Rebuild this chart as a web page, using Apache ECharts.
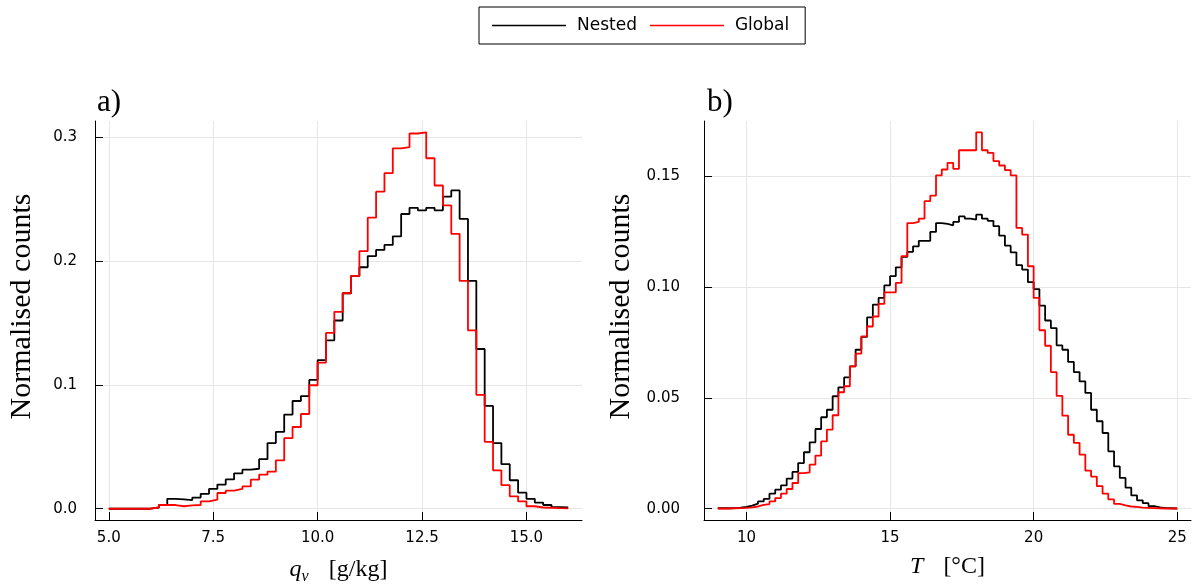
<!DOCTYPE html>
<html>
<head>
<meta charset="utf-8">
<script src="https://cdn.jsdelivr.net/npm/echarts@6/dist/echarts.min.js"></script>
<style>
  html, body { margin: 0; padding: 0; background: #fff; }
  #chart { width: 1194px; height: 586px; }
</style>
</head>
<body>
<div id="chart"></div>
<script>
// ---------- data ----------
const seriesNames = ['Nested', 'Global'];
const binWidth = 0.2;

// panel a) specific humidity q_v [g/kg], bins start at 5.0
const qvBinStart = 5.0;
const qvNested = [
  0, 0, 0, 0, 0, 0.001, 0.003, 0.008, 0.0075, 0.007,
  0.009, 0.012, 0.016, 0.0195, 0.0237, 0.0286, 0.0315, 0.0323, 0.040, 0.053,
  0.062, 0.076, 0.087, 0.091, 0.104, 0.120, 0.136, 0.152, 0.174, 0.188,
  0.195, 0.204, 0.209, 0.213, 0.220, 0.238, 0.243, 0.241, 0.243, 0.241,
  0.252, 0.257, 0.234, 0.184, 0.129, 0.083, 0.053, 0.036, 0.023, 0.013,
  0.008, 0.005, 0.003, 0.0013, 0.001
];
const qvGlobal = [
  0, 0, 0, 0, 0, 0.001, 0.003, 0.003, 0.002, 0.0027,
  0.003, 0.006, 0.0073, 0.0127, 0.0146, 0.016, 0.018, 0.0235, 0.0275, 0.030,
  0.039, 0.057, 0.066, 0.0765, 0.0997, 0.118, 0.142, 0.159, 0.174, 0.188,
  0.208, 0.235, 0.256, 0.271, 0.291, 0.292, 0.303, 0.304, 0.283, 0.261,
  0.245, 0.222, 0.184, 0.144, 0.092, 0.054, 0.031, 0.019, 0.010, 0.006,
  0.002, 0.001, 0.0008, 0.0005, 0.0003
];

// panel b) temperature T [°C], bins start at 9.0
const tBinStart = 9.0;
const tNested = [
  0.0002, 0.0002, 0.0003, 0.0005, 0.0008, 0.0014, 0.0023, 0.0033, 0.0044, 0.0068,
  0.0086, 0.0105, 0.0136, 0.0166, 0.0206, 0.0255, 0.030, 0.036, 0.0413, 0.0447,
  0.0508, 0.0548, 0.0593, 0.0643, 0.0718, 0.0776, 0.0864, 0.0922, 0.0952, 0.1009,
  0.105, 0.109, 0.1137, 0.116, 0.1185, 0.121, 0.121, 0.125, 0.129, 0.1286,
  0.128, 0.1295, 0.132, 0.131, 0.1306, 0.1328, 0.131, 0.130, 0.1276, 0.1233,
  0.1188, 0.1158, 0.110, 0.108, 0.1023, 0.0992, 0.0917, 0.085, 0.0816, 0.0738,
  0.0718, 0.0663, 0.0617, 0.0575, 0.0523, 0.0447, 0.0395, 0.0342, 0.0259, 0.0191,
  0.0139, 0.0095, 0.006, 0.0038, 0.0025, 0.0012, 0.0006, 0.0003, 0.0002, 0.0001
];
const tGlobal = [
  0.0001, 0.0001, 0.0002, 0.0003, 0.0004, 0.0006, 0.001, 0.0017, 0.0021, 0.0033,
  0.0048, 0.0068, 0.0089, 0.0116, 0.0161, 0.0164, 0.0199, 0.024, 0.0304, 0.0357,
  0.0422, 0.0526, 0.0553, 0.0643, 0.0700, 0.0778, 0.0823, 0.0868, 0.0925, 0.0977,
  0.0977, 0.102, 0.1141, 0.129, 0.1295, 0.131, 0.1389, 0.1414, 0.1505, 0.1532,
  0.1562, 0.1535, 0.1619, 0.1619, 0.1619, 0.170, 0.1619, 0.1607, 0.157, 0.155,
  0.1529, 0.1505, 0.1268, 0.1238, 0.1095, 0.0952, 0.0806, 0.0736, 0.0617, 0.051,
  0.042, 0.0334, 0.0297, 0.0244, 0.0172, 0.0145, 0.0102, 0.0068, 0.0042, 0.0022,
  0.0015, 0.001, 0.0008, 0.0005, 0.0004, 0.0003, 0.0002, 0.0001, 0.0001, 0.0001
];

// axis limits and ticks
const qvXRange = [4.67, 16.33];
const qvYRange = [-0.0091, 0.3131];
const tXRange = [8.52, 25.48];
const tYRange = [-0.0051, 0.1751];

const qvXTicks = [5.0, 7.5, 10.0, 12.5, 15.0];
const qvXTickLabels = ['5.0', '7.5', '10.0', '12.5', '15.0'];
const qvYTicks = [0.0, 0.1, 0.2, 0.3];
const qvYTickLabels = ['0.0', '0.1', '0.2', '0.3'];
const tXTicks = [10, 15, 20, 25];
const tXTickLabels = ['10', '15', '20', '25'];
const tYTicks = [0.0, 0.05, 0.10, 0.15];
const tYTickLabels = ['0.00', '0.05', '0.10', '0.15'];

const panelTitles = ['a)', 'b)'];
const yName = 'Normalised counts';

// ---------- build ----------
function stepData(start, vals) {
  const pts = vals.map((v, i) => [start + i * binWidth, v]);
  pts.push([start + vals.length * binWidth, vals[vals.length - 1]]);
  return pts;
}
function labelFor(ticks, labels) {
  return function (v) {
    for (let i = 0; i < ticks.length; i++) {
      if (Math.abs(ticks[i] - v) < 1e-9) return labels[i];
    }
    return '';
  };
}

const tickFont = { fontFamily: 'DejaVu Sans', fontSize: 15, color: '#000' };
const serif = 'Liberation Serif';

function xAxis(idx, range, ticks, labels, nameRich, nameStr) {
  return {
    type: 'value', gridIndex: idx, min: range[0], max: range[1],
    axisLine: { show: true, onZero: false, lineStyle: { color: '#000', width: 1 } },
    axisTick: { show: true, inside: true, length: 8, customValues: ticks, lineStyle: { color: '#000', width: 1 } },
    axisLabel: Object.assign({ customValues: ticks, margin: 11, formatter: labelFor(ticks, labels) }, tickFont),
    splitLine: { show: true, lineStyle: { color: '#e6e6e6', width: 1 } },
    name: nameStr, nameLocation: 'middle', nameGap: 35,
    nameTextStyle: { fontFamily: serif, fontSize: 24, color: '#000', verticalAlign: 'top', rich: nameRich }
  };
}
function yAxis(idx, range, ticks, labels, margin, gap) {
  return {
    type: 'value', gridIndex: idx, min: range[0], max: range[1],
    axisLine: { show: true, onZero: false, lineStyle: { color: '#000', width: 1 } },
    axisTick: { show: true, inside: true, length: 8, customValues: ticks, lineStyle: { color: '#000', width: 1 } },
    axisLabel: Object.assign({ customValues: ticks, margin: margin, formatter: labelFor(ticks, labels) }, tickFont),
    splitLine: { show: true, lineStyle: { color: '#e6e6e6', width: 1 } },
    name: yName, nameLocation: 'middle', nameGap: gap,
    nameTextStyle: { fontFamily: serif, fontSize: 30, color: '#000', padding: [0, 0, 0, 28] }
  };
}

const richName = {
  i: { fontFamily: serif, fontSize: 24, fontStyle: 'italic', color: '#000' },
  s: { fontFamily: serif, fontSize: 16, fontStyle: 'italic', color: '#000', padding: [14, 0, 0, 0] },
  g: { width: 20 },
  n: { fontFamily: serif, fontSize: 24, color: '#000' }
};

const chart = echarts.init(document.getElementById('chart'), null, { renderer: 'canvas' });
chart.setOption({
  animation: false,
  backgroundColor: '#fff',
  title: [
    { text: panelTitles[0], left: 92, top: 82, textStyle: { fontFamily: serif, fontSize: 31, fontWeight: 'normal', color: '#000' } },
    { text: panelTitles[1], left: 702, top: 82, textStyle: { fontFamily: serif, fontSize: 31, fontWeight: 'normal', color: '#000' } }
  ],
  legend: {
    data: seriesNames, left: 479, top: 7, orient: 'horizontal',
    borderColor: '#000', borderWidth: 1, borderRadius: 0, padding: [10, 16, 10, 13],
    icon: 'path://M0,0H74V1.5H0Z',
    itemWidth: 74, itemHeight: 14, itemGap: 13,
    textStyle: { fontFamily: 'DejaVu Sans', fontSize: 17, color: '#000', padding: [0, 0, 0, 6] }
  },
  grid: [
    { left: 95, top: 121, width: 487, height: 399, containLabel: false, outerBoundsMode: 'none' },
    { left: 704, top: 121, width: 487, height: 399, containLabel: false, outerBoundsMode: 'none' }
  ],
  xAxis: [
    xAxis(0, qvXRange, qvXTicks, qvXTickLabels, richName, '{i|q}{s|v}{g|}{n|[g/kg]}'),
    xAxis(1, tXRange, tXTicks, tXTickLabels, richName, '{i|T}{g|}{n|[°C]}')
  ],
  yAxis: [
    yAxis(0, qvYRange, qvYTicks, qvYTickLabels, 18, 58),
    yAxis(1, tYRange, tYTicks, tYTickLabels, 24, 68)
  ],
  series: [
    { name: seriesNames[0], type: 'line', step: 'end', xAxisIndex: 0, yAxisIndex: 0, symbol: 'none',
      data: stepData(qvBinStart, qvNested), lineStyle: { color: '#000', width: 1.8 }, itemStyle: { color: '#000' } },
    { name: seriesNames[1], type: 'line', step: 'end', xAxisIndex: 0, yAxisIndex: 0, symbol: 'none',
      data: stepData(qvBinStart, qvGlobal), lineStyle: { color: '#ff0000', width: 1.8 }, itemStyle: { color: '#ff0000' } },
    { name: seriesNames[0], type: 'line', step: 'end', xAxisIndex: 1, yAxisIndex: 1, symbol: 'none',
      data: stepData(tBinStart, tNested), lineStyle: { color: '#000', width: 1.8 }, itemStyle: { color: '#000' } },
    { name: seriesNames[1], type: 'line', step: 'end', xAxisIndex: 1, yAxisIndex: 1, symbol: 'none',
      data: stepData(tBinStart, tGlobal), lineStyle: { color: '#ff0000', width: 1.8 }, itemStyle: { color: '#ff0000' } }
  ]
});
</script>
</body>
</html>
